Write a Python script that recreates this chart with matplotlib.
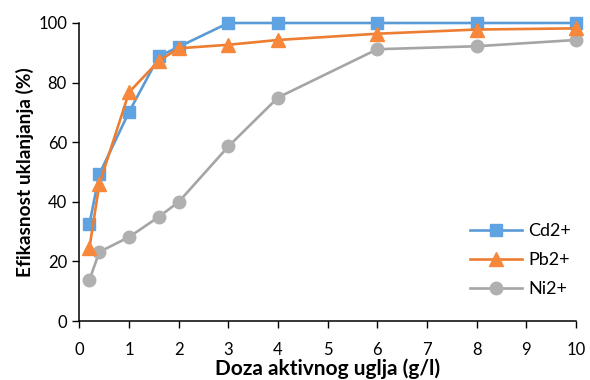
import matplotlib
matplotlib.use("Agg")
import matplotlib.pyplot as plt

# Dose of activated carbon (g/l)
doza = [0.2, 0.4, 1, 1.6, 2, 3, 4, 6, 8, 10]

# Removal efficiency (%) per ion
cd = [32.5, 49.3, 70.2, 88.8, 92.0, 100, 100, 100, 100, 100]
pb = [24.5, 46.0, 76.8, 87.3, 91.5, 92.7, 94.3, 96.4, 97.8, 98.2]
ni = [13.8, 23.2, 28.2, 35.0, 40.0, 58.6, 75.0, 91.2, 92.2, 94.3]

series_names = ["Cd2+", "Pb2+", "Ni2+"]
x_ticks = list(range(0, 11))
y_ticks = [0, 20, 40, 60, 80, 100]

plt.rcParams['font.family'] = ['Lato', 'DejaVu Sans']

fig = plt.figure(figsize=(5.9, 3.8), dpi=100)
ax = fig.add_axes([0.1347, 0.155, 0.8413, 0.7845])

ax.plot(doza, cd, color="#5B9BD5", lw=1.9, marker="s", ms=8.5,
        mfc="#5FA3E3", mec="#5FA3E3", label=series_names[0], zorder=3,
        clip_on=False)
ax.plot(doza, pb, color="#ED7D31", lw=1.9, marker="^", ms=9.5,
        mfc="#F7873A", mec="#F7873A", label=series_names[1], zorder=4,
        clip_on=False)
ax.plot(doza, ni, color="#A5A5A5", lw=1.9, marker="o", ms=9,
        mfc="#B0B0B0", mec="#B0B0B0", label=series_names[2], zorder=2,
        clip_on=False)

ax.set_xlim(0, 10)
ax.set_ylim(0, 100)
ax.set_xticks(x_ticks)
ax.set_yticks(y_ticks)
ax.tick_params(axis="both", direction="out", length=5, width=1,
               labelsize=12, colors="black", pad=4)
ax.tick_params(axis="x", pad=10)
for side in ("top", "right"):
    ax.spines[side].set_visible(False)
for side in ("left", "bottom"):
    ax.spines[side].set_linewidth(1.1)
    ax.spines[side].set_color("black")

ax.set_xlabel("Doza aktivnog uglja (g/l)", fontsize=15, fontweight="bold",
              labelpad=0)
ax.set_ylabel("Efikasnost uklanjanja (%)", fontsize=13.8, fontweight="bold",
              labelpad=3)

leg = ax.legend(loc="lower right", bbox_to_anchor=(1.005, 0.055),
                frameon=False, fontsize=13, handlelength=2.9,
                labelspacing=0.72, handletextpad=0.35, borderaxespad=0)

fig.savefig("out.png", dpi=100)
